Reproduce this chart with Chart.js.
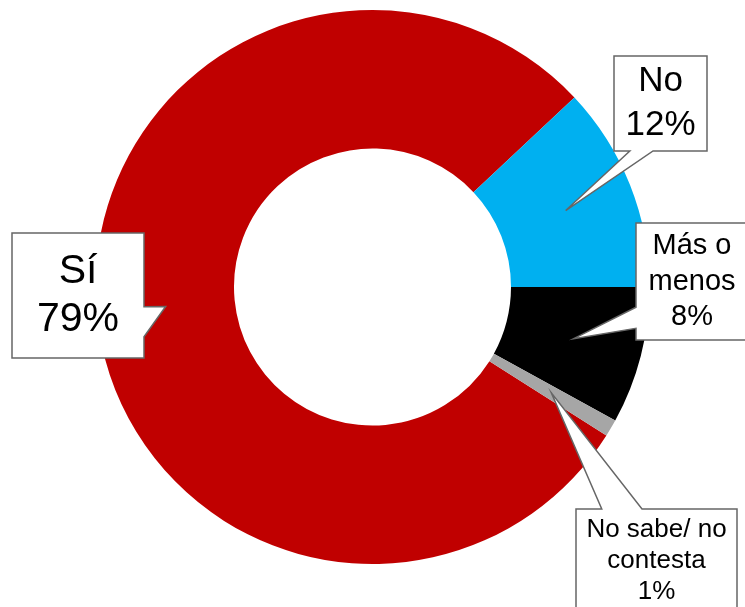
<!DOCTYPE html>
<html>
<head>
<meta charset="utf-8">
<script src="https://cdn.jsdelivr.net/npm/chart.js@4/dist/chart.umd.min.js"></script>
<style>
  body { margin: 0; background: #fff; }
  #wrap { width: 745px; height: 607px; }
</style>
</head>
<body>
<div id="wrap"><canvas id="pie" width="745" height="607"></canvas></div>
<script>
// data
var categories = ['Sí', 'No', 'Más o menos', 'No sabe/ no contesta'];
var values = [79, 12, 8, 1];
var colors = ['#C00000', '#00B0F0', '#000000', '#A6A6A6'];

// label text, split the way the callouts wrap it
var labelLines = [['Sí'], ['No'], ['Más o', 'menos'], ['No sabe/ no', 'contesta']];

// callout boxes (layout only). tail sits on one side, t0/t1 = fraction along it
var callouts = [
  { x: 12,  y: 233, w: 132, h: 125, side: 'right',  t0: 0.59, t1: 0.83, font: 41, lh: 48 },
  { x: 614, y: 56,  w: 93,  h: 95,  side: 'bottom', t0: 0.17, t1: 0.42, font: 35, lh: 44 },
  { x: 636, y: 223, w: 112, h: 117, side: 'left',   t0: 0.72, t1: 0.90, font: 29, lh: 35.5 },
  { x: 576, y: 509, w: 161, h: 104, side: 'top',    t0: 0.16, t1: 0.41, font: 26, lh: 31 }
];

function calloutPath(ctx, b, tip) {
  var x = b.x, y = b.y, w = b.w, h = b.h;
  ctx.beginPath();
  ctx.moveTo(x, y);
  if (b.side == 'top') {
    ctx.lineTo(x + w * b.t0, y); ctx.lineTo(tip.x, tip.y); ctx.lineTo(x + w * b.t1, y);
  }
  ctx.lineTo(x + w, y);
  if (b.side == 'right') {
    ctx.lineTo(x + w, y + h * b.t0); ctx.lineTo(tip.x, tip.y); ctx.lineTo(x + w, y + h * b.t1);
  }
  ctx.lineTo(x + w, y + h);
  if (b.side == 'bottom') {
    ctx.lineTo(x + w * b.t1, y + h); ctx.lineTo(tip.x, tip.y); ctx.lineTo(x + w * b.t0, y + h);
  }
  ctx.lineTo(x, y + h);
  if (b.side == 'left') {
    ctx.lineTo(x, y + h * b.t1); ctx.lineTo(tip.x, tip.y); ctx.lineTo(x, y + h * b.t0);
  }
  ctx.closePath();
}

//################ callout labels #############################
var calloutPlugin = {
  id: 'callouts',
  afterDatasetsDraw: function(chart) {
    var ctx = chart.ctx;
    var arcs = chart.getDatasetMeta(0).data;
    ctx.save();
    arcs.forEach(function(arc, i) {
      var b = callouts[i];
      var tip = arc.tooltipPosition(); // middle of the ring, middle of the slice
      calloutPath(ctx, b, tip);
      ctx.fillStyle = '#ffffff';
      ctx.fill();
      ctx.lineWidth = 1.5;
      ctx.strokeStyle = '#666666';
      ctx.stroke();

      var lines = labelLines[i].concat([values[i] + '%']);
      ctx.fillStyle = '#000000';
      ctx.font = b.font + 'px "Liberation Sans", Arial, sans-serif';
      ctx.textAlign = 'center';
      ctx.textBaseline = 'middle';
      var cx = b.x + b.w / 2;
      var cy = b.y + b.h / 2 - (lines.length - 1) * b.lh / 2;
      lines.forEach(function(t, k) {
        ctx.fillText(t, cx, cy + k * b.lh);
      });
    });
    ctx.restore();
  }
};

new Chart(document.getElementById('pie').getContext('2d'), {
  type: 'doughnut',
  data: {
    labels: categories,
    datasets: [{
      data: values,
      backgroundColor: colors,
      borderWidth: 0
    }]
  },
  options: {
    responsive: false,
    animation: false,
    rotation: 122.4,
    cutout: '50%',
    layout: { padding: { top: 10, bottom: 43, left: 0, right: 0 } },
    plugins: {
      legend: { display: false },
      tooltip: { enabled: false }
    }
  },
  plugins: [calloutPlugin]
});
</script>
</body>
</html>
